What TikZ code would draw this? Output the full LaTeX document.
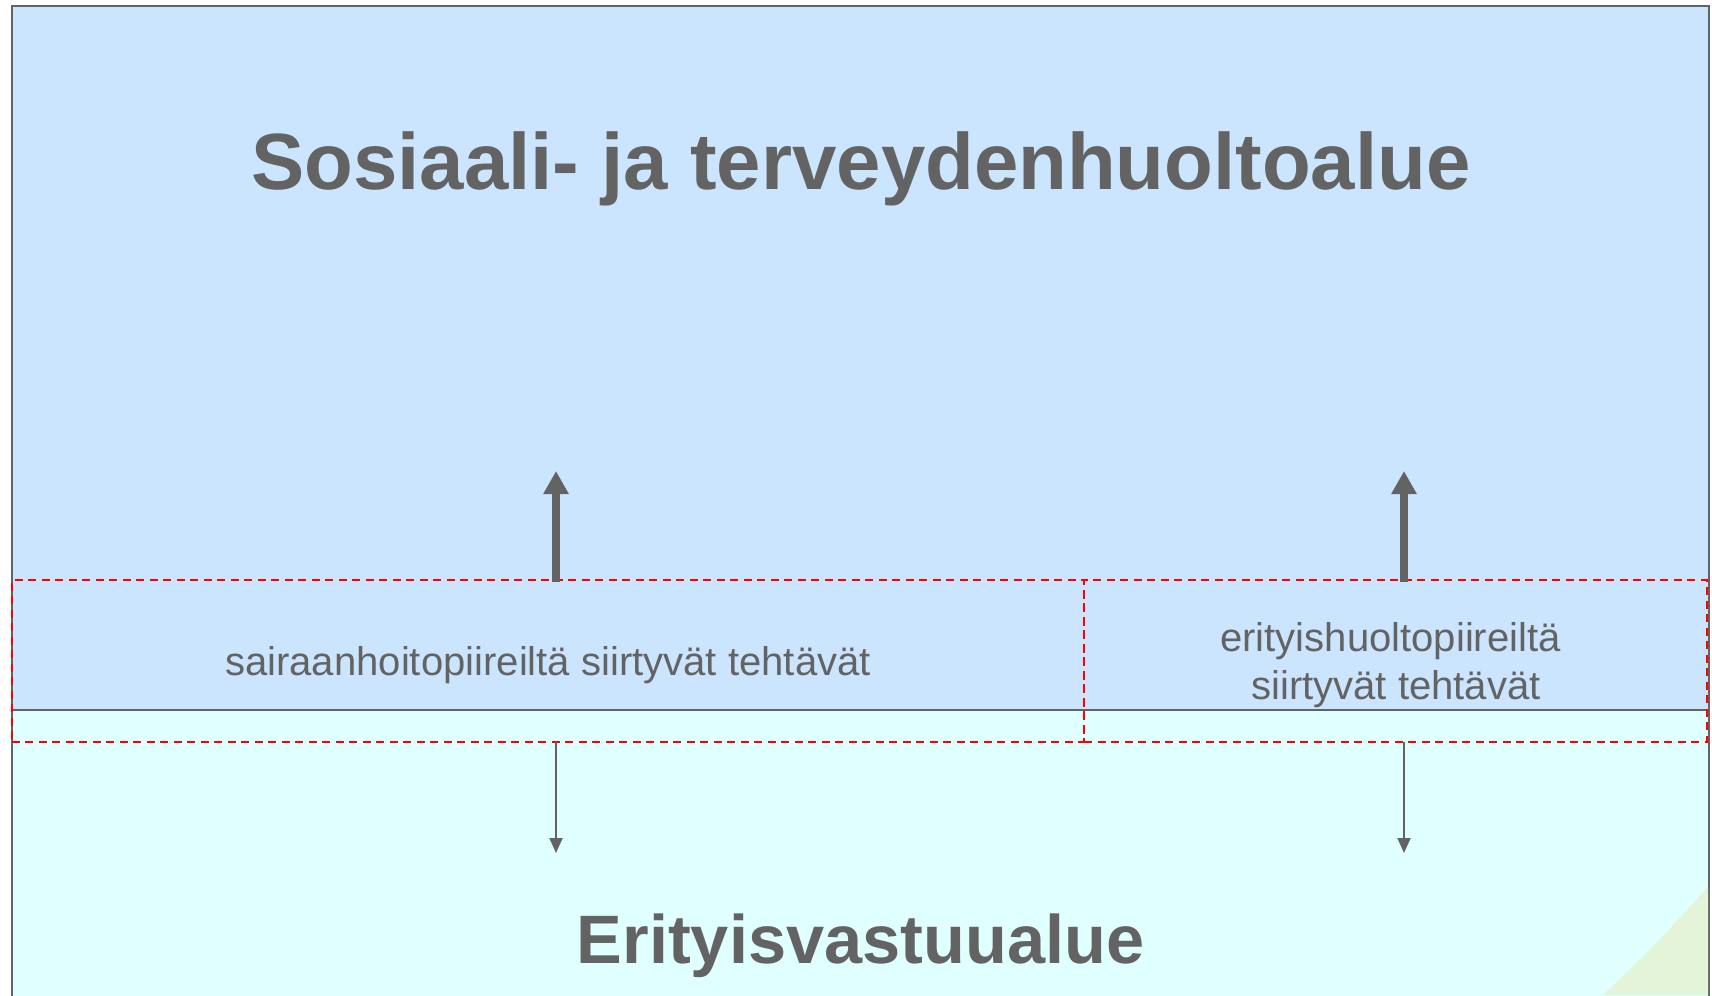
\documentclass[tikz,border=0pt]{standalone}
\usepackage{fontspec}
\setmainfont{Liberation Sans}
\usepackage{tikz}
\usetikzlibrary{arrows.meta,calc}
\definecolor{sotebg}{RGB}{204,229,255}
\definecolor{ervabg}{RGB}{224,255,255}
\definecolor{darkgray}{RGB}{99,99,99}
\definecolor{cornergreen}{RGB}{227,244,217}
\tikzstyle{area}=[rectangle, inner sep=0pt, outer sep=0pt, draw=darkgray, line width=0.02cm, anchor=north west]
\tikzstyle{band}=[rectangle, inner sep=0pt, outer sep=0pt, draw=red, line width=0.02cm, dash pattern=on 0.08cm off 0.055cm, anchor=north west]
\tikzstyle{annot}=[align=center, text=darkgray, font=\fontsize{11.4}{13.6}\selectfont]
\tikzstyle{heading}=[text=darkgray, font=\bfseries\fontsize{22.7}{26}\selectfont, anchor=base]
\tikzstyle{uparrow}=[draw=darkgray, line width=0.08cm, -{Triangle[width=0.24cm,length=0.23cm]}]
\tikzstyle{downarrow}=[draw=darkgray, line width=0.018cm, -{Triangle[width=0.13cm,length=0.15cm]}]
\newcommand{\drawtransfer}[2]
{
  \coordinate (up#1) at (#2,-4.71);
  \coordinate (down#1) at (#2,-8.53);
  \draw[uparrow] ([yshift=-0.017cm]band#1.north -| up#1) -- (up#1);
  \draw[downarrow] (band#1.south -| down#1) -- (down#1);
}
\begin{document}
\begin{tikzpicture}
	\useasboundingbox (0,0) rectangle (17.12,-9.95);

	\node[area, fill=sotebg, minimum width=16.97cm, minimum height=7.045cm](sote) at (0.12,-0.055){};
	\node[area, fill=ervabg, minimum width=16.97cm, minimum height=3cm](erva) at (sote.south west){};
	\fill[cornergreen] (16.03,-9.95) .. controls (16.55,-9.45) .. (17.08,-8.87) -- (17.08,-9.95) -- cycle;

	\node[band, minimum width=10.72cm, minimum height=1.615cm](band1) at (0.12,-5.80){};
	\node[band, minimum width=6.23cm, minimum height=1.615cm](band2) at (band1.north east){};

	\node[heading](soteT) at (8.61,-1.895){Sosiaali- ja terveydenhuoltoalue};
	\node[heading, font=\bfseries\fontsize{19.5}{23}\selectfont](ervaT) at (8.605,-9.63){Erityisvastuualue};

	\node[annot, anchor=base](task1) at ([yshift=-0.15cm]band1.center){sairaanhoitopiireiltä siirtyvät tehtävät};
	\node[annot](task2) at ([xshift=-0.05cm,yshift=-0.04cm]band2.center){erityishuoltopiireiltä\\\hspace*{0.11cm}siirtyvät tehtävät};

	\drawtransfer{1}{5.56}
	\drawtransfer{2}{14.04}

\end{tikzpicture}
\end{document}
